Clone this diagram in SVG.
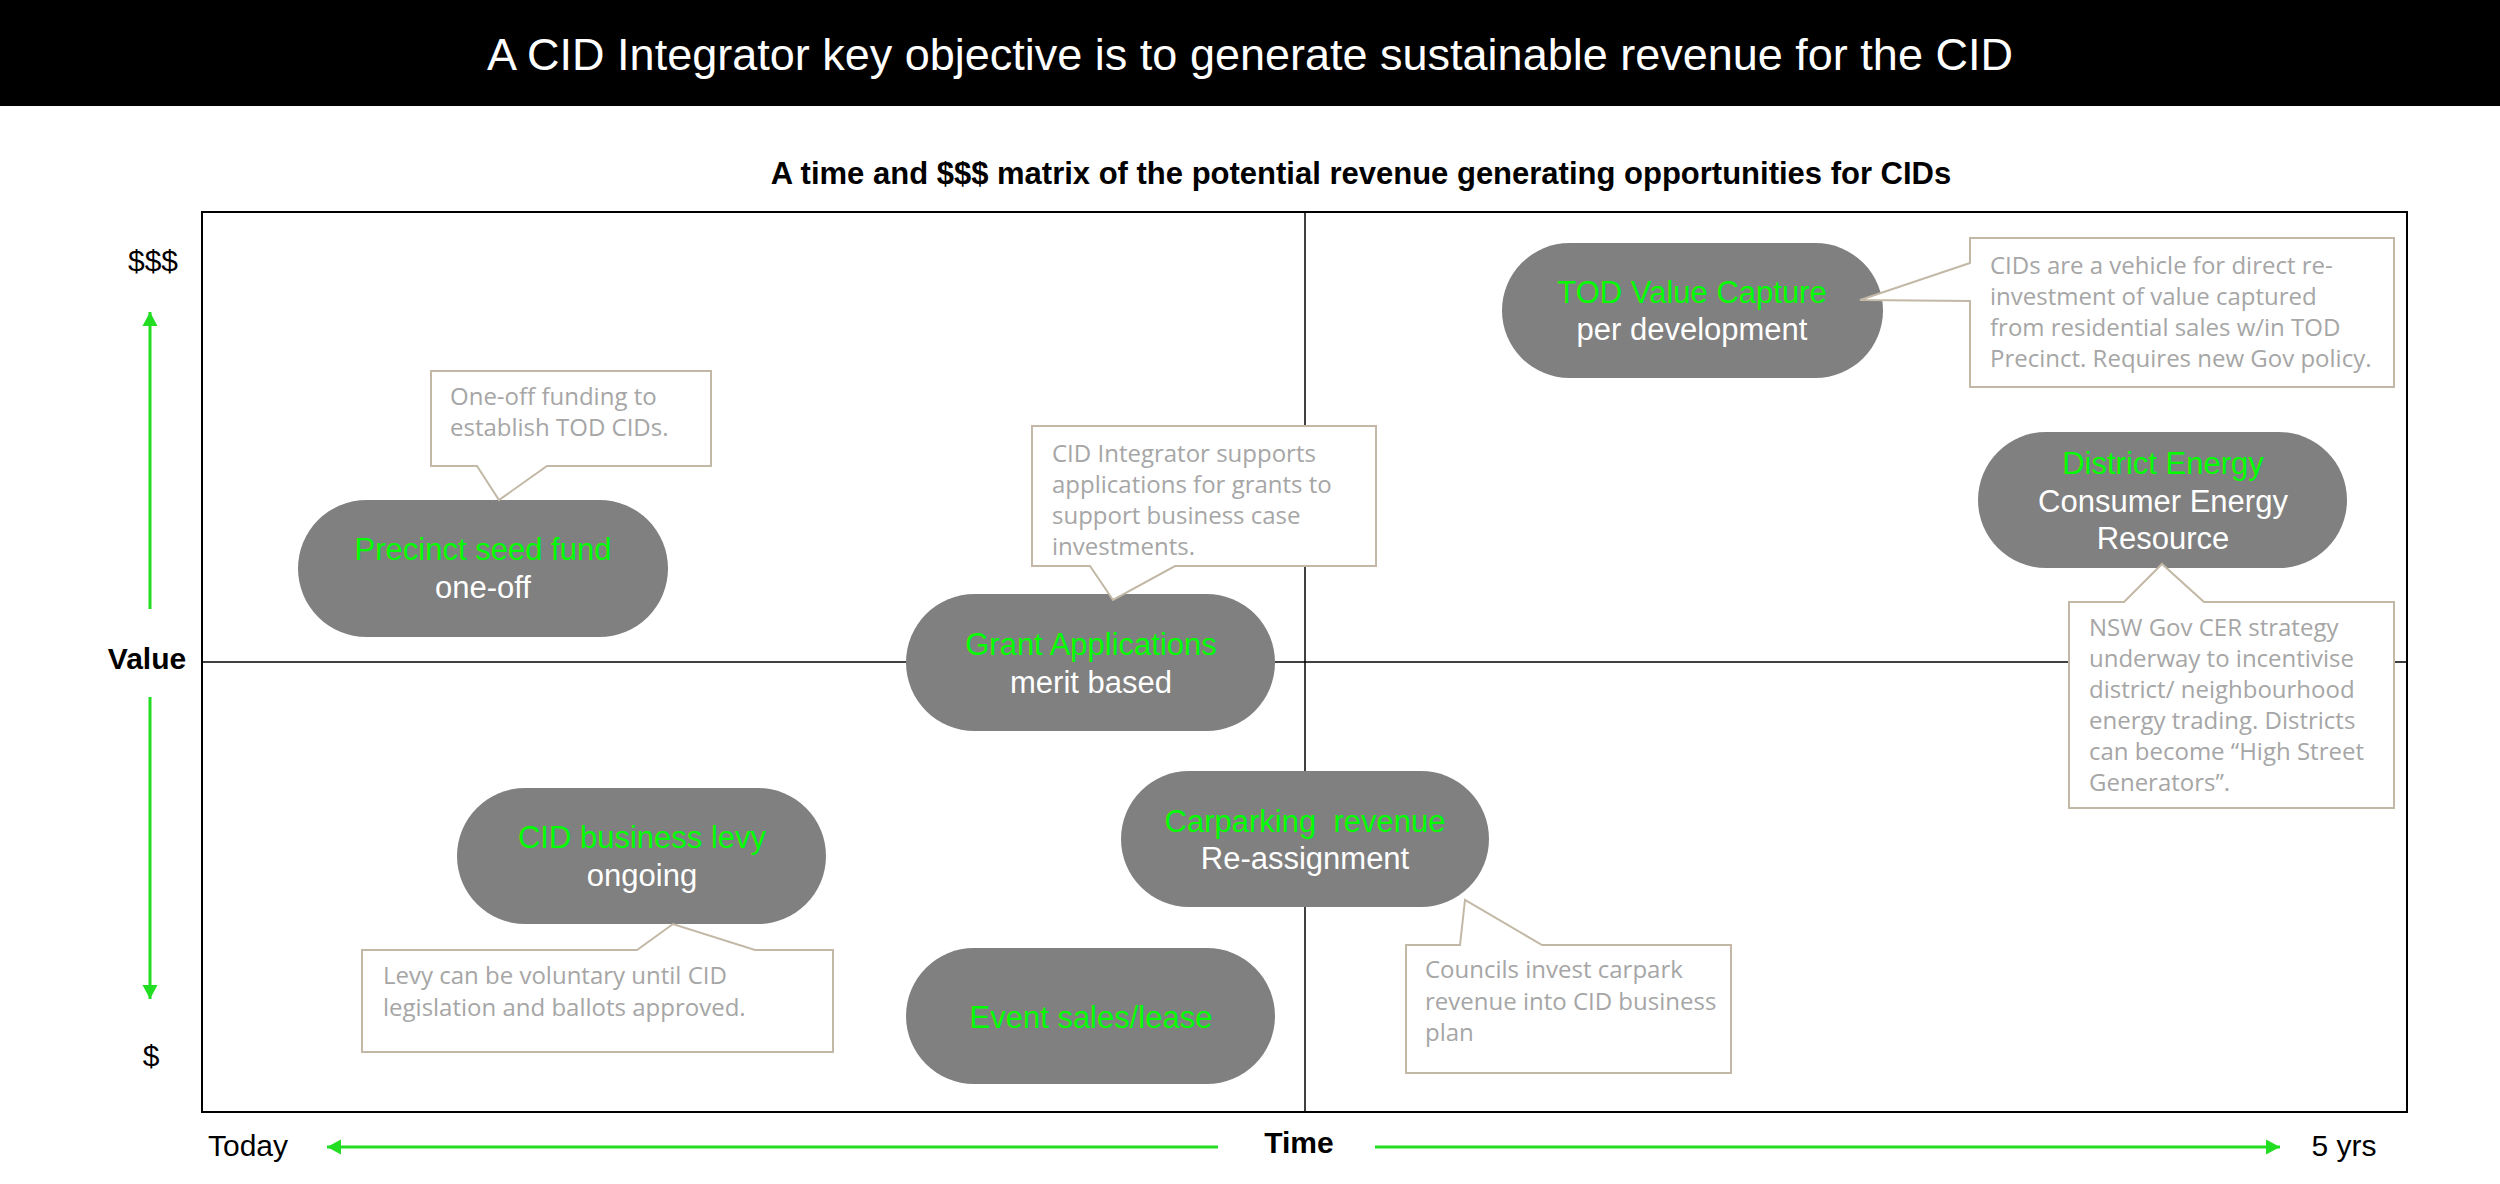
<svg xmlns="http://www.w3.org/2000/svg" width="2500" height="1184" viewBox="0 0 2500 1184">
<style>
.title{font-family:"Liberation Sans",Arial,sans-serif;font-size:45px;fill:#ffffff;text-anchor:middle}
.sub{font-family:"Liberation Sans",Arial,sans-serif;font-size:31px;font-weight:bold;fill:#000;text-anchor:middle}
.ax{font-family:"Liberation Sans",Arial,sans-serif;font-size:30px;fill:#000;text-anchor:middle}
.axb{font-family:"Liberation Sans",Arial,sans-serif;font-size:30px;font-weight:bold;fill:#000;text-anchor:middle}
.pill{fill:#808080}
.pt{font-family:"Liberation Sans",Arial,sans-serif;font-size:31px;text-anchor:middle}
.g{fill:#00ff00}
.w{fill:#ffffff}
.call{fill:#ffffff;stroke:#c2b8a5;stroke-width:2}
.ct{font-family:"Open Sans","Liberation Sans",sans-serif;font-size:24px;fill:#a6a6a6}
.frame{fill:none;stroke:#000;stroke-width:2}
.div{stroke:#000;stroke-width:1.5}
.arr{stroke:#22dd22;stroke-width:3;fill:none;marker-end:url(#ah)}
</style>
<defs>
<marker id="ah" markerUnits="userSpaceOnUse" markerWidth="16" markerHeight="16" refX="14" refY="8" orient="auto">
<path d="M0,0.5 L14,8 L0,15.5 Z" fill="#22dd22"/>
</marker>
</defs>
<rect width="2500" height="1184" fill="#ffffff"/>
<g id="header">
<rect x="0" y="0" width="2500" height="106" fill="#000"/>
<text class="title" x="1250" y="70">A CID Integrator key objective is to generate sustainable revenue for the CID</text>
</g>
<text class="sub" x="1361" y="184">A time and $$$ matrix of the potential revenue generating opportunities for CIDs</text>
<g id="matrix">
<rect class="frame" x="202" y="212" width="2205" height="900"/>
<line class="div" x1="1305" y1="212" x2="1305" y2="1112"/>
<line class="div" x1="202" y1="662" x2="2407" y2="662"/>
</g>
<g id="axis-labels">
<text class="ax" x="153" y="271">$$$</text>
<text class="axb" x="147" y="669">Value</text>
<text class="ax" x="151" y="1066">$</text>
<text class="ax" x="248" y="1156">Today</text>
<text class="axb" x="1299" y="1153">Time</text>
<text class="ax" x="2344" y="1156">5 yrs</text>
</g>
<g id="connectors">
<line class="arr" x1="150" y1="609" x2="150" y2="312"/>
<line class="arr" x1="150" y1="697" x2="150" y2="999"/>
<line class="arr" x1="1218" y1="1147" x2="327" y2="1147"/>
<line class="arr" x1="1375" y1="1147" x2="2280" y2="1147"/>
</g>
<g id="node-precinct">
<rect class="pill" x="298" y="500" width="370" height="137" rx="68.5"/>
<text class="pt g" x="483" y="560">Precinct seed fund</text>
<text class="pt w" x="483" y="598">one-off</text>
</g>
<g id="node-grant">
<rect class="pill" x="906" y="594" width="369" height="137" rx="68.5"/>
<text class="pt g" x="1091" y="655">Grant Applications</text>
<text class="pt w" x="1091" y="693">merit based</text>
</g>
<g id="node-tod">
<rect class="pill" x="1502" y="243" width="381" height="135" rx="67.5"/>
<text class="pt g" x="1692" y="303">TOD Value Capture</text>
<text class="pt w" x="1692" y="340">per development</text>
</g>
<g id="node-district">
<rect class="pill" x="1978" y="432" width="369" height="136" rx="68"/>
<text class="pt g" x="2163" y="474">District Energy</text>
<text class="pt w" x="2163" y="512">Consumer Energy</text>
<text class="pt w" x="2163" y="549">Resource</text>
</g>
<g id="node-levy">
<rect class="pill" x="457" y="788" width="369" height="136" rx="68"/>
<text class="pt g" x="642" y="848">CID business levy</text>
<text class="pt w" x="642" y="886">ongoing</text>
</g>
<g id="node-carpark">
<rect class="pill" x="1121" y="771" width="368" height="136" rx="68"/>
<text class="pt g" x="1305" y="832" xml:space="preserve">Carparking  revenue</text>
<text class="pt w" x="1305" y="869">Re-assignment</text>
</g>
<g id="node-event">
<rect class="pill" x="906" y="948" width="369" height="136" rx="68"/>
<text class="pt g" x="1091" y="1028">Event sales/lease</text>
</g>
<g id="callout-precinct">
<path class="call" d="M431,371 H711 V466 H547 L499,500 L477,466 H431 Z"/>
<text class="ct" x="450" y="405">One-off funding to</text>
<text class="ct" x="450" y="436">establish TOD CIDs.</text>
</g>
<g id="callout-grant">
<path class="call" d="M1032,426 H1376 V566 H1175 L1113,600 L1090,566 H1032 Z"/>
<text class="ct" x="1052" y="462">CID Integrator supports</text>
<text class="ct" x="1052" y="493">applications for grants to</text>
<text class="ct" x="1052" y="524">support business case</text>
<text class="ct" x="1052" y="555">investments.</text>
</g>
<g id="callout-tod">
<path class="call" d="M1970,238 H2394 V387 H1970 V301 L1860,300 L1970,263 Z"/>
<text class="ct" x="1990" y="274">CIDs are a vehicle for direct re-</text>
<text class="ct" x="1990" y="305">investment of value captured</text>
<text class="ct" x="1990" y="336">from residential sales w/in TOD</text>
<text class="ct" x="1990" y="367">Precinct. Requires new Gov policy.</text>
</g>
<g id="callout-district">
<path class="call" d="M2069,602 H2124 L2162,564 L2204,602 H2394 V808 H2069 Z"/>
<text class="ct" x="2089" y="636">NSW Gov CER strategy</text>
<text class="ct" x="2089" y="667">underway to incentivise</text>
<text class="ct" x="2089" y="698">district/ neighbourhood</text>
<text class="ct" x="2089" y="729">energy trading. Districts</text>
<text class="ct" x="2089" y="760">can become “High Street</text>
<text class="ct" x="2089" y="791">Generators”.</text>
</g>
<g id="callout-levy">
<path class="call" d="M362,950 H637 L673,924 L755,950 H833 V1052 H362 Z"/>
<text class="ct" x="383" y="984">Levy can be voluntary until CID</text>
<text class="ct" x="383" y="1016">legislation and ballots approved.</text>
</g>
<g id="callout-carpark">
<path class="call" d="M1406,945 H1460 L1465,900 L1542,945 H1731 V1073 H1406 Z"/>
<text class="ct" x="1425" y="978">Councils invest carpark</text>
<text class="ct" x="1425" y="1010">revenue into CID business</text>
<text class="ct" x="1425" y="1041">plan</text>
</g>
</svg>
